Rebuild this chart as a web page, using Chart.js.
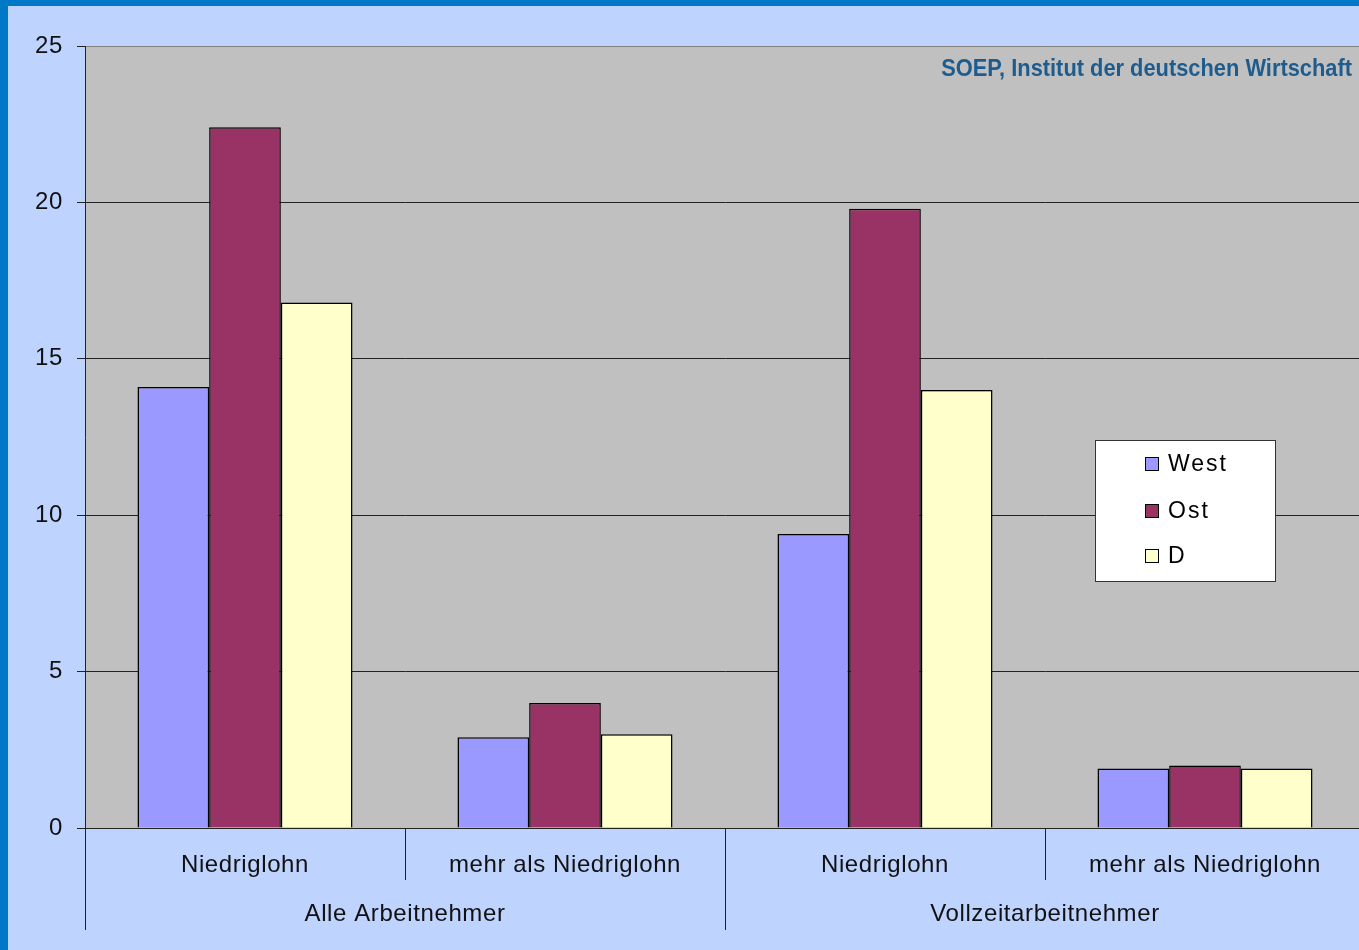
<!DOCTYPE html>
<html lang="de">
<head>
<meta charset="UTF-8">
<title>Niedriglohn West / Ost / D</title>
<script src="https://cdn.jsdelivr.net/npm/chart.js@4"></script>
<style>
  html, body { margin: 0; padding: 0; overflow: hidden; background: #0078C8; }
  canvas { display: block; }
</style>
</head>
<body>
<canvas id="chart" width="1365" height="950"></canvas>
<script>
// data
var categories = ['Niedriglohn', 'mehr als Niedriglohn', 'Niedriglohn', 'mehr als Niedriglohn'];
var groups = ['Alle Arbeitnehmer', 'Vollzeitarbeitnehmer'];
var west = [14.1, 2.9, 9.4, 1.9];
var ost = [22.4, 4.0, 19.8, 2.0];
var deutschland = [16.8, 3.0, 14.0, 1.9];
var yTicks = [0, 5, 10, 15, 20, 25];
var source = 'SOEP, Institut der deutschen Wirtschaft';

var FONT = '"Liberation Sans", Arial, sans-serif';

// background, plot area, group labels, separators, legend box, source
var decor = {
  id: 'decor',
  beforeDraw: function(chart) {
    var c = chart.ctx, a = chart.chartArea;
    c.save();
    c.fillStyle = '#0078C8';
    c.fillRect(0, 0, chart.width, chart.height);
    c.fillStyle = '#BFD3FF';
    c.fillRect(8, 6, chart.width - 8, chart.height - 6);
    c.fillStyle = '#C0C0C0';
    c.fillRect(a.left, a.top, a.right - a.left, a.bottom - a.top);
    c.restore();
    // the old Excel labels are spaced out a little
    c.letterSpacing = '0.6px';
  },
  afterDraw: function(chart) {
    var c = chart.ctx, a = chart.chartArea;
    var n = categories.length;
    var w = (a.right - a.left) / n;
    c.save();
    c.strokeStyle = '#222';
    c.lineWidth = 1;
    for (var i = 0; i <= n; i++) {
      var x = Math.round(a.left + i * w) + 0.5;
      c.beginPath();
      c.moveTo(x, a.bottom);
      c.lineTo(x, i % 2 === 0 ? a.bottom + 102 : a.bottom + 52);
      c.stroke();
    }
    c.fillStyle = '#111';
    c.font = '24px ' + FONT;
    c.letterSpacing = '0.6px';
    c.textAlign = 'center';
    c.textBaseline = 'middle';
    for (var g = 0; g < groups.length; g++) {
      c.fillText(groups[g], a.left + (g * 2 + 1) * w, a.bottom + 86);
    }

    // source note (narrow face)
    c.save();
    c.letterSpacing = '0px';
    c.font = 'bold 24px ' + FONT;
    c.fillStyle = '#1F5C8E';
    c.textAlign = 'right';
    c.translate(1352, 69);
    c.scale(0.91, 1);
    c.fillText(source, 0, 0);
    c.restore();

    // legend
    var lx = 1095, ly = 440, lw = 180, lh = 141;
    c.fillStyle = '#FFFFFF';
    c.fillRect(lx, ly, lw, lh);
    c.strokeStyle = '#333';
    c.strokeRect(lx + 0.5, ly + 0.5, lw, lh);
    var rows = [464, 511, 556];
    c.font = '23px ' + FONT;
    c.letterSpacing = '2px';
    c.textAlign = 'left';
    chart.data.datasets.forEach(function(ds, k) {
      c.fillStyle = ds.backgroundColor;
      c.fillRect(1145, rows[k] - 7, 14, 14);
      c.strokeStyle = '#000';
      c.strokeRect(1145.5, rows[k] - 6.5, 13, 13);
      c.fillStyle = '#000';
      c.fillText(ds.label, 1168, rows[k] + 1);
    });
    c.restore();
  }
};

new Chart(document.getElementById('chart'), {
  type: 'bar',
  data: {
    labels: categories,
    datasets: [
      { label: 'West', data: west, backgroundColor: '#9999FF' },
      { label: 'Ost', data: ost, backgroundColor: '#993366' },
      { label: 'D', data: deutschland, backgroundColor: '#FFFFCC' }
    ]
  },
  options: {
    responsive: false,
    animation: false,
    devicePixelRatio: 1,
    layout: { padding: { top: 46, left: 0, right: 0, bottom: 0 } },
    datasets: {
      bar: {
        borderColor: '#000',
        borderWidth: 1.5,
        categoryPercentage: 0.672,
        barPercentage: 1
      }
    },
    plugins: {
      legend: { display: false },
      tooltip: { enabled: false }
    },
    scales: {
      x: {
        grid: { display: false },
        border: { display: true, color: '#222', width: 1 },
        ticks: {
          color: '#111',
          font: { family: FONT, size: 24 },
          padding: 15,
          maxRotation: 0
        },
        afterFit: function(s) { s.height = 122; }
      },
      y: {
        min: 0,
        max: 25,
        afterBuildTicks: function(s) {
          s.ticks = yTicks.map(function(v) { return { value: v }; });
        },
        grid: {
          color: function(ctx) { return ctx.tick && ctx.tick.value === 25 ? '#808080' : '#222'; },
          tickColor: '#222',
          tickLength: 8,
          lineWidth: 1
        },
        border: { display: true, color: '#222', width: 1 },
        ticks: {
          color: '#111',
          font: { family: FONT, size: 24 },
          padding: 14
        },
        afterFit: function(s) { s.width = 85; }
      }
    }
  },
  plugins: [decor]
});
</script>
</body>
</html>
